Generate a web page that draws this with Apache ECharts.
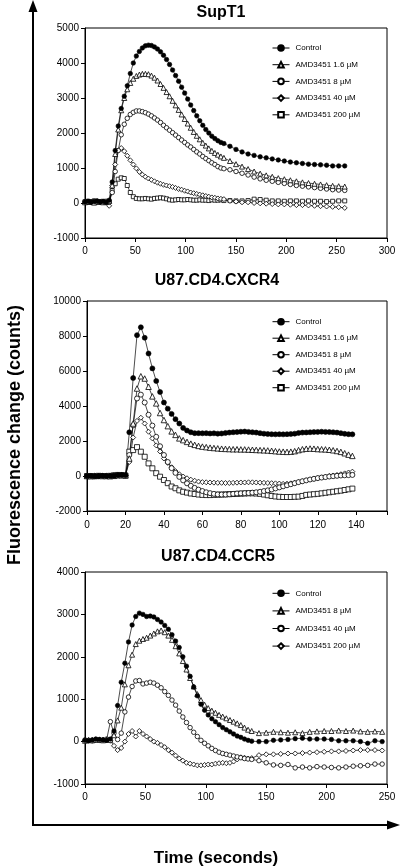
<!DOCTYPE html>
<html>
<head>
<meta charset="utf-8">
<script src="https://cdn.jsdelivr.net/npm/echarts@6/dist/echarts.min.js"></script>
<style>html,body{margin:0;padding:0;background:#fff}#c{width:400px;height:867px}</style>
</head>
<body>
<div id="c"></div>
<script>
// ---------- Panel 1: SupT1 ----------
const timeSupT1 = [0,3,6,9,12,15,18,21,24,27,30,33,36,39,42,45,48,51,54,57,60,63,66,69,72,75,78,81,84,87,90,93,96,99,102,105,108,111,114,117,120,123,126,129,132,135,138,
  144,150,156,162,168,174,180,186,192,198,204,210,216,222,228,234,240,246,252,258];
const supControl = [30,50,20,40,60,30,40,20,80,
  600,1500,2200,2700,3050,3350,3700,4000,4200,4330,4430,4490,4510,4500,4460,4400,4320,4220,4100,3960,3800,3640,3480,3310,3140,2970,2800,2640,2490,2350,2220,2100,2000,1910,1840,1780,1730,1700,
  1620,1530,1460,1400,1360,1320,1290,1260,1230,1200,1170,1150,1130,1110,1100,1090,1080,1060,1060,1060];
const supAmd1_6 = [20,40,30,10,50,40,20,30,60,
  500,1400,2100,2650,3000,3250,3430,3550,3630,3670,3690,3690,3680,3640,3580,3500,3400,3290,3170,3050,2920,2790,2660,2530,2400,2270,2150,2030,1920,1820,1720,1640,1560,1490,1430,1380,1330,1290,
  1200,1110,1040,970,900,840,790,750,710,680,650,620,590,570,550,530,510,490,480,470];
const supAmd8 = [40,20,30,50,20,40,30,50,20,
  300,900,1500,1950,2250,2420,2530,2590,2630,2630,2610,2580,2540,2490,2430,2370,2300,2220,2150,2080,2010,1940,1870,1800,1730,1660,1600,1530,1460,1400,1330,1270,1210,1150,1100,1040,1000,980,
  950,900,850,800,740,690,650,620,590,560,530,500,480,460,440,420,400,380,370,360];
const supAmd40 = [30,40,20,30,50,20,40,10,-80,
  500,1100,1500,1570,1480,1350,1220,1100,990,890,810,750,700,660,620,580,550,520,500,480,460,430,400,380,350,330,300,280,260,240,220,200,180,160,150,130,120,110,
  60,40,20,20,0,-10,-20,-30,-40,-40,-50,-60,-60,-70,-80,-90,-100,-110,-120,-140];
const supAmd200 = [40,50,30,60,40,30,50,30,40,
  350,550,680,720,700,500,300,180,130,120,120,130,120,110,130,140,150,140,120,90,80,90,100,90,90,100,90,80,80,90,80,80,70,90,80,80,90,70,
  70,60,60,70,110,100,80,60,60,50,60,60,50,60,50,50,40,50,60,60];

// ---------- Panel 2: U87.CD4.CXCR4 ----------
const timeCXCR4 = [0,2,4,6,8,10,12,14,16,18,20,22,24,26,28,30,32,34,36,38,40,42,44,46,48,50,52,54,56,58,60,
  62,64,66,68,70,72,74,76,78,80,82,84,86,88,90,92,94,96,98,100,
  102,104,106,108,110,112,114,116,118,120,122,124,126,128,130,132,134,136,138];
const cxControl = [0,0,-20,0,10,0,0,20,50,60,50,
  2500,5600,8050,8500,7900,7000,6150,5430,4800,4200,3850,3550,3250,3000,2750,2600,2500,2450,2450,2440,
  2450,2430,2440,2420,2430,2460,2480,2500,2510,2530,2540,2520,2500,2480,2450,2420,2400,2390,2380,2390,
  2380,2390,2400,2420,2460,2480,2490,2500,2510,2520,2530,2520,2510,2500,2480,2450,2410,2390,2380];
const cxAmd1_6 = [0,-10,0,10,0,0,-10,10,40,50,30,
  1000,3000,5000,5700,5570,5100,4550,4150,3600,3200,2850,2550,2350,2150,2050,1950,1850,1780,1720,1680,
  1650,1620,1600,1580,1560,1550,1540,1530,1530,1520,1520,1510,1500,1490,1480,1470,1460,1440,1420,1400,
  1390,1380,1390,1420,1480,1530,1560,1570,1560,1540,1530,1520,1500,1470,1430,1380,1300,1220,1150];
const cxAmd8 = [0,0,10,-10,0,10,0,30,60,40,20,
  1200,2900,4430,4650,4200,3500,2880,2240,1700,1200,800,450,180,-50,-250,-420,-560,-680,-780,-860,
  -930,-980,-1020,-1050,-1060,-1060,-1040,-1020,-1000,-990,-980,-970,-950,-930,-900,-860,-820,-770,-710,-650,
  -590,-530,-470,-410,-350,-300,-250,-200,-160,-120,-90,-60,-30,-10,10,30,40,50,60];
const cxAmd40 = [0,10,0,0,-10,10,0,20,50,60,40,
  800,2200,3150,3330,3000,2530,2150,1750,1400,1000,750,500,280,100,-30,-130,-210,-270,-320,-350,
  -360,-370,-380,-390,-390,-400,-400,-390,-380,-370,-370,-360,-360,-370,-380,-390,-400,-410,-420,-430,
  -450,-440,-420,-390,-350,-300,-250,-200,-160,-120,-80,-40,0,30,60,100,150,200,250];
const cxAmd200 = [0,0,0,10,0,0,10,40,60,50,30,
  1390,1480,1650,1390,1100,720,440,160,-40,-230,-410,-600,-700,-820,-900,-950,-1000,-1030,-1060,-1080,
  -1090,-1090,-1080,-1070,-1060,-1050,-1040,-1030,-1020,-1010,-1000,-990,-990,-1000,-1020,-1060,-1100,-1140,-1170,-1190,
  -1200,-1200,-1200,-1190,-1180,-1140,-1080,-1060,-1040,-1020,-990,-960,-930,-900,-870,-840,-800,-760,-720];

// ---------- Panel 3: U87.CD4.CCR5 ----------
const timeCCR5 = [0,3,6,9,12,15,18,21,24,27,30,33,36,39,42,45,48,51,54,57,60,63,66,69,72,75,78,81,84,87,90,93,96,99,102,105,108,111,114,117,120,123,126,129,132,135,138,
  144,150,156,162,168,174,180,186,192,198,204,210,216,222,228,234,240,246];
const ccControl = [30,20,40,60,50,40,30,60,
  250,850,1400,1850,2350,2750,2950,3030,3000,2950,2960,2940,2880,2820,2740,2650,2520,2370,2220,2000,1780,1540,1290,1080,880,740,630,540,470,400,330,280,230,180,130,100,60,30,10,
  0,0,30,40,50,70,80,60,60,60,50,20,20,20,0,-40,20,0];
const ccAmd8 = [20,40,30,50,40,30,50,40,
  150,500,800,1350,1800,2050,2300,2380,2420,2450,2500,2550,2600,2620,2580,2500,2400,2250,2080,1900,1700,1500,1300,1120,980,870,790,730,680,630,590,550,510,470,430,390,330,280,250,
  200,210,230,220,210,220,200,230,240,250,250,260,250,260,240,230,240,230];
const ccAmd40 = [40,30,20,50,30,40,60,470,
  200,50,200,700,1050,1300,1430,1440,1360,1380,1400,1380,1330,1270,1180,1090,980,860,720,580,450,330,220,120,30,-40,-100,-160,-210,-250,-280,-300,-320,-340,-360,-380,-400,-410,-420,
  -450,-500,-550,-560,-540,-620,-600,-620,-590,-600,-610,-620,-600,-580,-570,-560,-530,-530];
const ccAmd200 = [30,20,40,30,50,40,30,20,
  -100,-200,-150,0,180,250,120,250,180,120,60,0,-30,-80,-130,-200,-260,-330,-400,-450,-500,-520,-540,-560,-560,-550,-540,-540,-520,-510,-500,-510,-500,-470,-420,-370,-380,-400,-390,
  -320,-300,-300,-290,-280,-280,-270,-260,-250,-240,-230,-230,-220,-210,-200,-200,-200,-210];

// ---------- labels ----------
const titles = ['SupT1', 'U87.CD4.CXCR4', 'U87.CD4.CCR5'];
const yAxisTitle = 'Fluorescence change (counts)';
const xAxisTitle = 'Time (seconds)';

const FONT = '"Liberation Sans", Arial, Helvetica, sans-serif';
const zip = (t, v) => t.map((x, i) => [x, v[i]]);

function mk(name, idx, times, vals, symbol, size, filled) {
  return {
    name: name, type: 'line', xAxisIndex: idx, yAxisIndex: idx,
    data: zip(times, vals), symbol: symbol, symbolSize: size, showSymbol: true,
    animation: false, clip: true,
    lineStyle: { color: '#000', width: 0.7 },
    itemStyle: filled ? { color: '#000', borderColor: '#000', borderWidth: 0.6 }
                      : { color: '#fff', borderColor: '#000', borderWidth: 0.8 }
  };
}

// names kept unique per panel by trailing spaces (invisible)
const p1 = ['Control', 'AMD3451 1.6 µM', 'AMD3451 8 µM', 'AMD3451 40 µM', 'AMD3451 200 µM'];
const p2 = p1.map(s => s + ' ');
const p3 = ['Control  ', 'AMD3451 8 µM  ', 'AMD3451 40 µM  ', 'AMD3451 200 µM  '];

const series = [
  mk(p1[4], 0, timeSupT1, supAmd200, 'rect', 4, false),
  mk(p1[3], 0, timeSupT1, supAmd40, 'diamond', 5, false),
  mk(p1[2], 0, timeSupT1, supAmd8, 'circle', 4.5, false),
  mk(p1[1], 0, timeSupT1, supAmd1_6, 'triangle', 5, false),
  mk(p1[0], 0, timeSupT1, supControl, 'circle', 4.5, true),

  mk(p2[4], 1, timeCXCR4, cxAmd200, 'rect', 5, false),
  mk(p2[3], 1, timeCXCR4, cxAmd40, 'diamond', 5, false),
  mk(p2[2], 1, timeCXCR4, cxAmd8, 'circle', 5, false),
  mk(p2[1], 1, timeCXCR4, cxAmd1_6, 'triangle', 5.5, false),
  mk(p2[0], 1, timeCXCR4, cxControl, 'circle', 5, true),

  mk(p3[3], 2, timeCCR5, ccAmd200, 'diamond', 5, false),
  mk(p3[2], 2, timeCCR5, ccAmd40, 'circle', 4.5, false),
  mk(p3[1], 2, timeCCR5, ccAmd8, 'triangle', 5, false),
  mk(p3[0], 2, timeCCR5, ccControl, 'circle', 4.5, true)
];

function xAx(idx, max, interval, margin) {
  return {
    gridIndex: idx, type: 'value', min: 0, max: max, interval: interval,
    axisLine: { show: true, onZero: false, lineStyle: { color: '#000', width: 1 } },
    axisTick: { show: true, inside: false, length: 4, lineStyle: { color: '#000', width: 1 } },
    axisLabel: { color: '#000', fontSize: 10, fontFamily: FONT, margin: margin,
      formatter: v => (v % interval === 0 ? String(v) : '') },
    splitLine: { show: false }
  };
}
function yAx(idx, min, max, interval) {
  return {
    gridIndex: idx, type: 'value', min: min, max: max, interval: interval,
    axisLine: { show: true, onZero: false, lineStyle: { color: '#000', width: 1 } },
    axisTick: { show: true, inside: false, length: 4, lineStyle: { color: '#000', width: 1 } },
    axisLabel: { color: '#000', fontSize: 10, fontFamily: FONT, margin: 6, formatter: v => String(v) },
    splitLine: { show: false }
  };
}
function lg(names, top, gap) {
  return {
    data: names, orient: 'vertical', left: 272, top: top,
    itemWidth: 17, itemHeight: 7, itemGap: gap, selectedMode: false,
    lineStyle: { width: 1, color: '#000' },
    textStyle: { color: '#000', fontSize: 8, lineHeight: 8, fontFamily: FONT, padding: [0, 0, 0, 1] },
    padding: 0
  };
}

const chart = echarts.init(document.getElementById('c'), null, { renderer: 'canvas' });
chart.setOption({
  backgroundColor: '#fff',
  animation: false,
  grid: [
    { left: 85, top: 28, width: 302, height: 210, show: true, borderColor: '#000', borderWidth: 1, backgroundColor: 'transparent' },
    { left: 87, top: 301, width: 300, height: 210, show: true, borderColor: '#000', borderWidth: 1, backgroundColor: 'transparent' },
    { left: 85, top: 572, width: 302, height: 212, show: true, borderColor: '#000', borderWidth: 1, backgroundColor: 'transparent' }
  ],
  xAxis: [xAx(0, 300, 50, 8), xAx(1, 156, 20, 9), xAx(2, 250, 50, 8)],
  yAxis: [yAx(0, -1000, 5000, 1000), yAx(1, -2000, 10000, 2000), yAx(2, -1000, 4000, 1000)],
  legend: [lg(p1, 44, 8.7), lg(p2, 317.7, 8.5), lg(p3, 589.3, 9.6)],
  series: series,
  graphic: [
    { type: 'text', x: 221, y: 13, style: { text: titles[0], textAlign: 'center', textVerticalAlign: 'middle', font: 'bold 16px ' + FONT, fill: '#000' } },
    { type: 'text', x: 217, y: 281, style: { text: titles[1], textAlign: 'center', textVerticalAlign: 'middle', font: 'bold 16px ' + FONT, fill: '#000' } },
    { type: 'text', x: 218, y: 557, style: { text: titles[2], textAlign: 'center', textVerticalAlign: 'middle', font: 'bold 16px ' + FONT, fill: '#000' } },
    { type: 'text', x: 216, y: 858, style: { text: xAxisTitle, textAlign: 'center', textVerticalAlign: 'middle', font: 'bold 17px ' + FONT, fill: '#000' } },
    { type: 'text', x: 15, y: 435, rotation: Math.PI / 2, style: { text: yAxisTitle, textAlign: 'center', textVerticalAlign: 'middle', font: 'bold 18px ' + FONT, fill: '#000' } },
    { type: 'line', shape: { x1: 33, y1: 825, x2: 33, y2: 8 }, style: { stroke: '#000', lineWidth: 2 } },
    { type: 'polygon', shape: { points: [[33, 0], [28.5, 12], [37.5, 12]] }, style: { fill: '#000' } },
    { type: 'line', shape: { x1: 32, y1: 825, x2: 390, y2: 825 }, style: { stroke: '#000', lineWidth: 2 } },
    { type: 'polygon', shape: { points: [[400, 825], [387, 820.5], [387, 829.5]] }, style: { fill: '#000' } }
  ]
});
</script>
</body>
</html>
